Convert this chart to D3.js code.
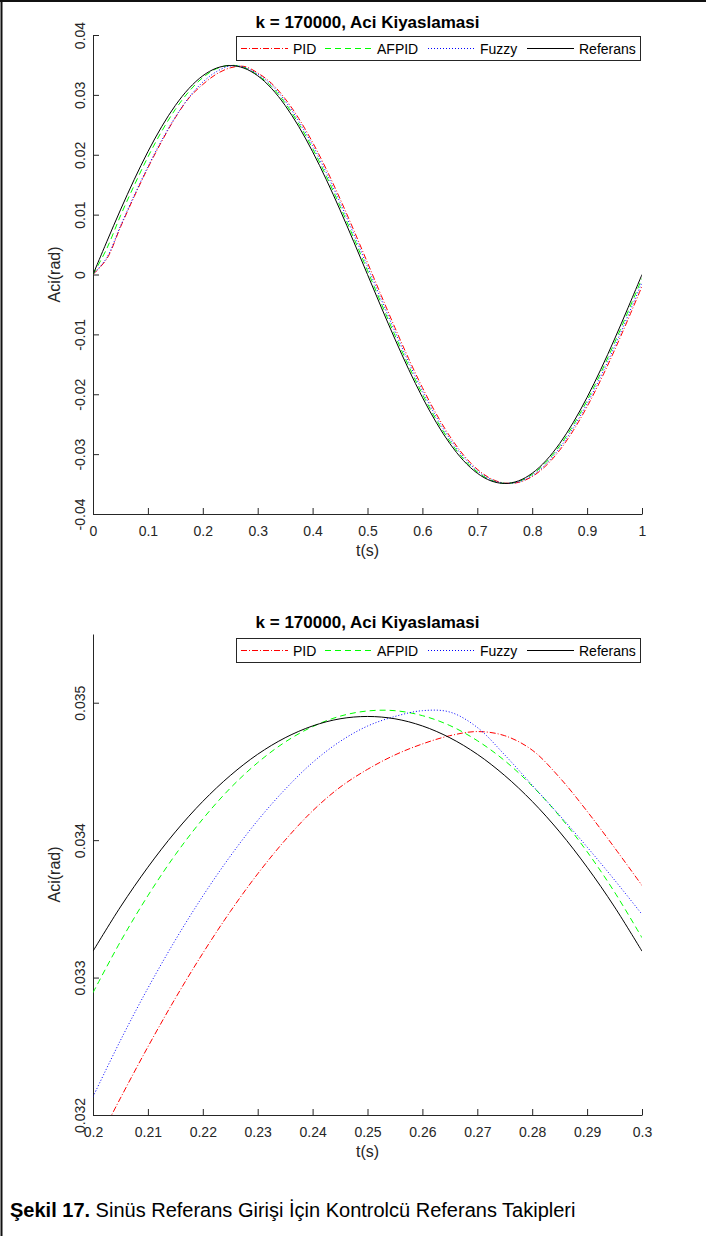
<!DOCTYPE html>
<html>
<head>
<meta charset="utf-8">
<script src="https://cdn.jsdelivr.net/npm/d3@7"></script>
<style>
  html, body { margin: 0; padding: 0; background: #fff; }
  svg { display: block; font-family: "Liberation Sans", Arial, Helvetica, sans-serif; }
</style>
</head>
<body>
<svg id="chart" width="706" height="1236"></svg>
<script>
// ---------- DATA ----------
const seriesNames = ["PID", "AFPID", "Fuzzy", "Referans"];
const seriesColors = ["#ff0000", "#00ff00", "#0000ff", "#000000"];

// Top chart: t from 0 to 1, every 0.025 s
const topTime = [0,0.025,0.05,0.075,0.1,0.125,0.15,0.175,0.2,0.225,0.25,0.275,0.3,0.325,0.35,0.375,0.4,0.425,0.45,0.475,0.5,0.525,0.55,0.575,0.6,0.625,0.65,0.675,0.7,0.725,0.75,0.775,0.8,0.825,0.85,0.875,0.9,0.925,0.95,0.975,1];
const topPID = [0,0.0026,0.0079,0.0130,0.0178,0.0222,0.0262,0.0295,0.03174,0.03348,0.034515,0.03476,0.03367,0.031941,0.029352,0.026031,0.022069,0.017578,0.012642,0.007399,0.001973,-0.003503,-0.008892,-0.014062,-0.018883,-0.023239,-0.027029,-0.030163,-0.032531,-0.034107,-0.034844,-0.034724,-0.033748,-0.031941,-0.029352,-0.026031,-0.022069,-0.017578,-0.012642,-0.007399,-0.001973];
const topAFPID = [0,0.0043,0.0098,0.01486,0.01962,0.02389,0.02758,0.03058,0.03289,0.034378,0.03494,0.034578,0.03329,0.031393,0.028629,0.025134,0.021045,0.016427,0.011408,0.006108,0.000658,-0.004809,-0.010156,-0.015255,-0.019975,-0.024200,-0.027856,-0.030791,-0.032983,-0.034361,-0.034894,-0.034567,-0.033389,-0.031393,-0.028629,-0.025134,-0.021045,-0.016427,-0.011408,-0.006108,-0.000658];
const topFuzzy = [0,0.0028,0.0081,0.0132,0.0180,0.0224,0.0263,0.0296,0.032133,0.033883,0.03483,0.03462,0.03346,0.031669,0.028977,0.025583,0.021563,0.017004,0.012028,0.006755,0.001315,-0.004157,-0.009526,-0.014659,-0.019432,-0.023734,-0.027445,-0.030475,-0.032762,-0.034240,-0.034875,-0.034652,-0.033574,-0.031669,-0.028977,-0.025583,-0.021563,-0.017004,-0.012028,-0.006755,-0.001315];
const topRef = [0,0.005460,0.010785,0.015844,0.020514,0.024678,0.028235,0.031096,0.033192,0.034470,0.034900,0.034470,0.033192,0.031096,0.028235,0.024678,0.020514,0.015844,0.010785,0.005460,0,-0.005460,-0.010785,-0.015844,-0.020514,-0.024678,-0.028235,-0.031096,-0.033192,-0.034470,-0.034900,-0.034470,-0.033192,-0.031096,-0.028235,-0.024678,-0.020514,-0.015844,-0.010785,-0.005460,0];

// Bottom (zoomed) chart: t from 0.2 to 0.3, every 0.005 s
const zoomTime = [0.200,0.205,0.210,0.215,0.220,0.225,0.230,0.235,0.240,0.245,0.250,0.255,0.260,0.265,0.270,0.275,0.280,0.285,0.290,0.295,0.300];
const zoomPID = [0.031738,0.032123,0.032496,0.032849,0.033177,0.033480,0.033755,0.034000,0.034213,0.034385,0.034515,0.034620,0.034700,0.034760,0.034790,0.034760,0.034655,0.034455,0.034210,0.033945,0.033670];
const zoomAFPID = [0.032890,0.033262,0.033596,0.033894,0.034154,0.034378,0.034564,0.034714,0.034826,0.034902,0.034940,0.034942,0.034906,0.034834,0.034724,0.034578,0.034394,0.034174,0.033916,0.033622,0.033290];
const zoomFuzzy = [0.032133,0.032543,0.032923,0.033273,0.033593,0.033883,0.034143,0.034370,0.034565,0.034718,0.034830,0.034900,0.034942,0.034932,0.034820,0.034620,0.034400,0.034180,0.033950,0.033710,0.033460];
const zoomRef = [0.033192,0.033514,0.033803,0.034060,0.034282,0.034470,0.034625,0.034745,0.034831,0.034883,0.034900,0.034883,0.034831,0.034745,0.034625,0.034470,0.034282,0.034060,0.033803,0.033514,0.033192];

// Ticks
const topXTicks = [0,0.1,0.2,0.3,0.4,0.5,0.6,0.7,0.8,0.9,1];
const topXLabels = ["0","0.1","0.2","0.3","0.4","0.5","0.6","0.7","0.8","0.9","1"];
const topYTicks = [-0.04,-0.03,-0.02,-0.01,0,0.01,0.02,0.03,0.04];
const topYLabels = ["-0.04","-0.03","-0.02","-0.01","0","0.01","0.02","0.03","0.04"];
const zoomXTicks = [0.2,0.21,0.22,0.23,0.24,0.25,0.26,0.27,0.28,0.29,0.3];
const zoomXLabels = ["0.2","0.21","0.22","0.23","0.24","0.25","0.26","0.27","0.28","0.29","0.3"];
const zoomYTicks = [0.032,0.033,0.034,0.035];
const zoomYLabels = ["0.032","0.033","0.034","0.035"];

const titleText = "k = 170000, Aci Kiyaslamasi";
const xLabelText = "t(s)";
const yLabelText = "Aci(rad)";
const captionBold = "Şekil 17.";
const captionRest = " Sinüs Referans Girişi İçin Kontrolcü Referans Takipleri";

// ---------- DRAWING ----------
const svg = d3.select("#chart");
const axisColor = "#262626";
const dashes = ["6,2,1,2", "6,4", "1,2", null];

// page frame (top and left edges)
svg.append("line").attr("x1", 0).attr("x2", 706).attr("y1", 1).attr("y2", 1)
  .attr("stroke", "#111").attr("stroke-width", 2);
svg.append("line").attr("x1", 1.5).attr("x2", 1.5).attr("y1", 0).attr("y2", 1236)
  .attr("stroke", "#111").attr("stroke-width", 2);

function drawPanel(cfg) {
  const x = d3.scaleLinear().domain(cfg.xDomain).range([93, 642]);
  const y = d3.scaleLinear().domain(cfg.yDomain).range([cfg.bottom, cfg.top]);
  const g = svg.append("g");

  const clipId = "clip" + cfg.id;
  svg.append("clipPath").attr("id", clipId).append("rect")
    .attr("x", 93).attr("y", cfg.top).attr("width", 549).attr("height", cfg.bottom - cfg.top);

  // x axis
  const xa = g.append("g").attr("transform", `translate(0,${cfg.bottom})`)
    .call(d3.axisBottom(x).tickValues(cfg.xTicks).tickSizeInner(-6).tickSizeOuter(0)
      .tickFormat((d, i) => cfg.xLabels[i]));
  xa.select(".domain").attr("stroke", axisColor);
  xa.selectAll(".tick line").attr("stroke", axisColor);
  xa.selectAll(".tick text").attr("y", 22).attr("dy", 0)
    .attr("font-size", 14).attr("fill", axisColor)
    .attr("font-family", "Liberation Sans, Arial, sans-serif");

  // y axis
  const ya = g.append("g").attr("transform", `translate(93,0)`)
    .call(d3.axisLeft(y).tickValues(cfg.yTicks).tickSizeInner(-6).tickSizeOuter(0)
      .tickFormat((d, i) => cfg.yLabels[i]));
  ya.select(".domain").attr("stroke", axisColor);
  ya.selectAll(".tick line").attr("stroke", axisColor);
  ya.selectAll(".tick text")
    .attr("transform", "rotate(-90)")
    .attr("x", 0).attr("y", -8).attr("dy", 0)
    .attr("text-anchor", "middle")
    .attr("font-size", 14).attr("fill", axisColor)
    .attr("font-family", "Liberation Sans, Arial, sans-serif");

  // lines
  const line = d3.line()
    .x((d, i) => x(cfg.time[i]))
    .y(d => y(d))
    .curve(d3.curveCatmullRom.alpha(0.5));
  const lg = g.append("g").attr("clip-path", `url(#${clipId})`);
  cfg.series.forEach((vals, k) => {
    const p = lg.append("path").datum(vals)
      .attr("d", line)
      .attr("fill", "none")
      .attr("stroke", seriesColors[k])
      .attr("stroke-width", 1);
    if (dashes[k]) p.attr("stroke-dasharray", dashes[k]);
  });

  // title
  g.append("text").attr("x", 367.5).attr("y", cfg.titleY)
    .attr("text-anchor", "middle").attr("font-weight", "bold").attr("font-size", 17)
    .attr("fill", "#000").text(titleText);

  // axis labels
  g.append("text").attr("x", 367.5).attr("y", cfg.bottom + 42)
    .attr("text-anchor", "middle").attr("font-size", 16).attr("fill", axisColor)
    .text(xLabelText);
  g.append("text")
    .attr("transform", `translate(60,${(cfg.top + cfg.bottom) / 2}) rotate(-90)`)
    .attr("text-anchor", "middle").attr("font-size", 16).attr("fill", axisColor)
    .text(yLabelText);

  // legend
  const ly = cfg.legendTop;
  g.append("rect").attr("x", 236.5).attr("y", ly + 0.5).attr("width", 404).attr("height", 24)
    .attr("fill", "#fff").attr("stroke", axisColor).attr("stroke-width", 1);
  const sampleX = [241, 325, 428, 527];
  seriesNames.forEach((name, k) => {
    const l = g.append("line").attr("x1", sampleX[k]).attr("x2", sampleX[k] + 47)
      .attr("y1", ly + 12.5).attr("y2", ly + 12.5)
      .attr("stroke", seriesColors[k]).attr("stroke-width", 1);
    if (dashes[k]) l.attr("stroke-dasharray", dashes[k]);
    g.append("text").attr("x", sampleX[k] + 52).attr("y", ly + 17.5)
      .attr("font-size", 14).attr("fill", "#000").text(name);
  });
}

drawPanel({
  id: "top", xDomain: [0, 1], yDomain: [-0.04, 0.04], top: 35, bottom: 514,
  xTicks: topXTicks, xLabels: topXLabels, yTicks: topYTicks, yLabels: topYLabels,
  time: topTime, series: [topPID, topAFPID, topFuzzy, topRef],
  titleY: 28, legendTop: 36
});

drawPanel({
  id: "bottom", xDomain: [0.2, 0.3], yDomain: [0.032, 0.0355], top: 634, bottom: 1115,
  xTicks: zoomXTicks, xLabels: zoomXLabels, yTicks: zoomYTicks, yLabels: zoomYLabels,
  time: zoomTime, series: [zoomPID, zoomAFPID, zoomFuzzy, zoomRef],
  titleY: 628, legendTop: 638
});

// caption
const cap = svg.append("text").attr("x", 10).attr("y", 1217).attr("font-size", 20).attr("fill", "#000");
cap.append("tspan").attr("font-weight", "bold").text(captionBold);
cap.append("tspan").text(captionRest);
</script>
</body>
</html>
